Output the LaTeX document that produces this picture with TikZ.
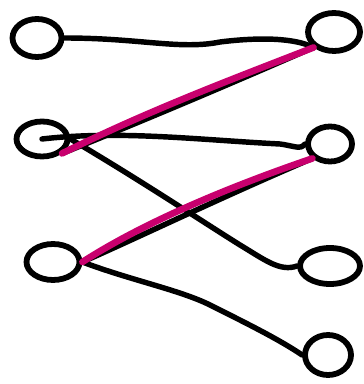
\documentclass[tikz,border=0pt]{standalone}
\usetikzlibrary{shapes.geometric}
\definecolor{mag}{HTML}{C8006E}
\begin{document}
\begin{tikzpicture}[x=0.02cm,y=-0.02cm,
  vert/.style={ellipse,draw=black,line width=3.3pt,inner sep=0pt},
  edge/.style={draw=black,line width=3.1pt,line cap=round,line join=round},
  hl/.style={draw=mag,line width=3.8pt,line cap=round}]
\useasboundingbox (0,0) rectangle (363,384);
\node[vert,minimum width=0.98cm,minimum height=0.76cm] (L1) at (37,38) {};
\node[vert,minimum width=1.02cm,minimum height=0.7cm] (L2) at (42,139) {};
\node[vert,minimum width=1.06cm,minimum height=0.72cm] (L3) at (53,262) {};
\node[vert,minimum width=1.04cm,minimum height=0.76cm] (R1) at (334,32) {};
\node[vert,minimum width=0.88cm,minimum height=0.7cm] (R2) at (330,144) {};
\node[vert,minimum width=1.2cm,minimum height=0.72cm] (R3) at (330,266) {};
\node[vert,minimum width=0.92cm,minimum height=0.8cm] (R4) at (328,355) {};
% black edges
\draw[edge] (L1.east) .. controls (140,38) and (180,50) .. (220,42) .. controls (260,37) and (295,38) .. (R1.south west);
\draw[edge] (L2.center) .. controls (120,130) and (200,140) .. (280,144) .. controls (295,146) and (300,150) .. (R2.west);
\draw[edge] (L2.east) .. controls (140,180) and (200,220) .. (240,245) .. controls (265,260) and (280,272) .. (R3.west);
\draw[edge] (L3.east) .. controls (130,280) and (180,290) .. (210,305) .. controls (250,325) and (280,340) .. (R4.west);
\draw[edge] (L2.south east) .. controls (150,118) and (230,84) .. (R1.south west);
\draw[edge] (L3.east) .. controls (150,232) and (220,198) .. (R2.south west);
% highlighted edges
\draw[hl] (L2.south east) .. controls (150,110) and (230,80) .. (R1.south west);
\draw[hl] (L3.east) .. controls (140,225) and (220,190) .. (R2.south west);
\end{tikzpicture}
\end{document}
